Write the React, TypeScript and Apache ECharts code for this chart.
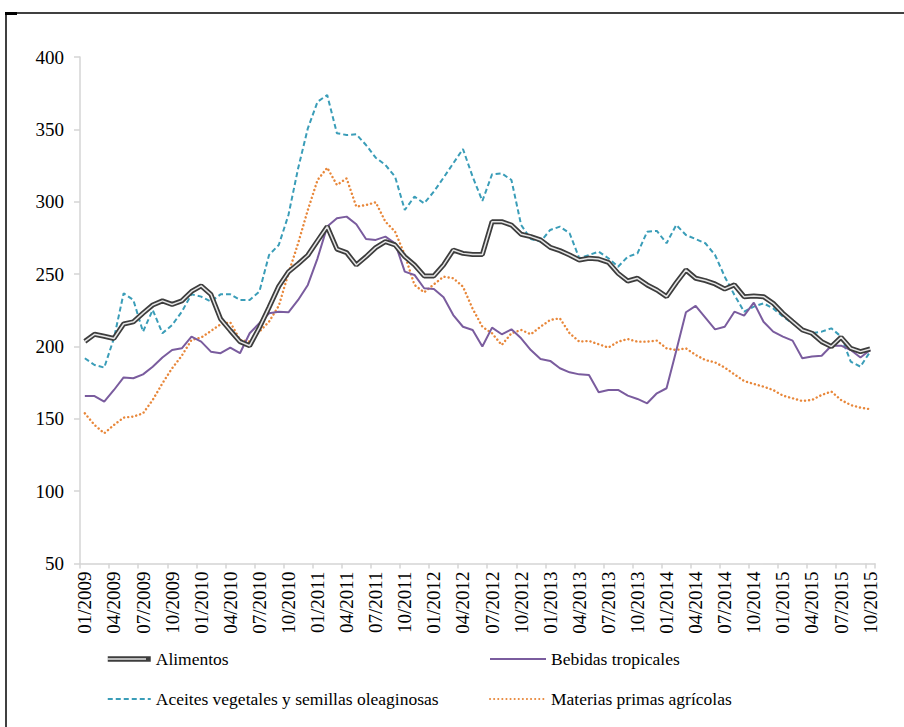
import React, { useEffect, useRef } from "react";
import * as echarts from "echarts";

const years = [2009, 2010, 2011, 2012, 2013, 2014, 2015];
const months = ["01", "02", "03", "04", "05", "06", "07", "08", "09", "10", "11", "12"];
const categories: string[] = [];
years.forEach((y) => months.forEach((m) => categories.push(m + "/" + y)));
categories.splice(82);

const alimentos = [
  203.5, 208.4, 207, 205.5, 215.5, 217, 223, 228.6, 231.5, 229, 231.5, 238,
  241.8, 236, 219, 211, 203.3, 200.5, 213, 227, 241.5, 251.5, 257, 263,
  273, 282.8, 267.3, 264.8, 256.3, 262, 268.3, 272.4, 270.1, 262, 256.3, 248.7,
  248.7, 256.3, 266.6, 264.3, 263.5, 263.5, 286.2, 286.2, 283.9, 277.5, 275.9, 273.6,
  268.5, 266.2, 263.2, 259.7, 260.9, 260.4, 258.1, 250.5, 245.2, 247.1, 242.5, 239,
  234.4, 244, 252.8, 247.1, 245.5, 243.2, 239.7, 242.5, 234.4, 234.9, 234.4, 229.8,
  222.9, 217.1, 211.4, 209.1, 203.3, 199.9, 206.3, 198.7, 196.4, 198.2,
];

const bebidas = [
  165.7, 165.7, 161.8, 169.9, 178.6, 178, 180.7, 186, 192.3, 197.5, 198.7, 206.8,
  203.3, 196.4, 195.3, 199.2, 195.3, 209.1, 216, 222.9, 224, 223.6, 232.1, 242.5,
  260.9, 282.8, 288.5, 289.7, 284.4, 274.2, 273.6, 275.9, 271.3, 251.7, 249.4, 240.2,
  239.7, 234, 221.7, 213.6, 211.4, 199.9, 213, 208.4, 211.8, 205.6, 197.5, 191.3,
  190, 184.9, 182.1, 180.7, 180.3, 168.3, 169.9, 169.9, 166, 163.7, 160.7, 167.6,
  171.1, 197, 223.6, 228, 219.9, 211.8, 213.6, 224, 221.3, 230.3, 217.1, 210.2,
  206.8, 204, 191.8, 193, 193.6, 200.5, 200.5, 197.5, 192.3, 197.5,
];

const aceites = [
  191.8, 187.2, 185.4, 205.6, 236.7, 232.1, 210.2, 225.2, 209.1, 214.8, 224, 236,
  234.4, 231, 236, 236, 232.1, 232.1, 237.9, 263.2, 270.1, 290.8, 323.1, 350.7,
  369.1, 373.7, 347.3, 346.1, 346.6, 339.2, 330.4, 325.4, 317.3, 294.3, 303.5, 298.9,
  307, 316.6, 326.5, 336.4, 317.3, 300.5, 318.9, 319.6, 315, 283.9, 274.2, 272.4,
  280.5, 282.8, 278.2, 260.9, 263.2, 265.5, 260.9, 255.1, 262, 264.3, 279.3, 279.8,
  271.3, 283.9, 277, 274.2, 271.3, 263.2, 248.2, 235.6, 224, 227.5, 229.8, 226.3,
  220.6, 216, 211.4, 209.1, 210.2, 212.5, 206.8, 189.5, 186, 196.4,
];

const materias = [
  153.8, 145.7, 140, 145.7, 150.8, 151.5, 153.8, 163, 174.5, 184.9, 193.6, 204.5,
  206.1, 210.7, 215.3, 216.7, 204.5, 203.3, 210.2, 217.1, 228, 250.5, 271.3, 294.3,
  315, 323.5, 311.6, 316.1, 296.6, 297.7, 299.6, 286.2, 279.3, 263.2, 242.5, 237.4,
  242.9, 248.2, 247.1, 241.3, 226, 213.6, 209.1, 201, 209.1, 211.4, 208.4, 213.6,
  218.3, 219.4, 209.1, 203.3, 203.8, 201.5, 199.2, 203.3, 205.1, 203.3, 203.3, 204,
  198.7, 197.5, 198.7, 194.1, 190.6, 189, 185.4, 180.7, 176.1, 174.1, 172.2, 169.9,
  166, 164.2, 162.3, 163, 166.5, 168.8, 163, 159.5, 157.7, 156.6,
];

const names = [
  "Alimentos",
  "Bebidas tropicales",
  "Aceites vegetales y semillas oleaginosas",
  "Materias primas agrícolas",
];

const FONT = "Nimbus Roman";

export default function App() {
  const ref = useRef<HTMLDivElement>(null);
  useEffect(() => {
    if (!ref.current) return;
    const chart = echarts.init(ref.current, undefined, { renderer: "svg" });
    const axisGray = "#d4d4d4";
    const legendCommon = {
      top: 649,
      padding: 0,
      orient: "vertical",
      itemHeight: 20,
      itemGap: 20,
      itemStyle: { opacity: 0 },
      textStyle: { fontFamily: FONT, fontSize: 17.5, color: "#000", lineHeight: 20 },
      selectedMode: false,
    };
    chart.setOption({
      animation: false,
      backgroundColor: "#ffffff",
      grid: {
        left: 80,
        right: 29,
        top: 57,
        bottom: 163.5,
        containLabel: false,
        outerBoundsMode: "none",
      },
      xAxis: {
        type: "category",
        data: categories,
        boundaryGap: true,
        axisLine: { show: true, lineStyle: { color: axisGray, width: 1.5 } },
        axisTick: { show: true, interval: 2, length: 5, lineStyle: { color: axisGray, width: 1.5 } },
        axisLabel: {
          interval: 2,
          rotate: 90,
          margin: 8,
          fontFamily: FONT,
          fontSize: 19,
          color: "#000",
        },
        splitLine: { show: false },
      },
      yAxis: {
        type: "value",
        min: 50,
        max: 400,
        interval: 50,
        axisLine: { show: true, lineStyle: { color: axisGray, width: 1.5 } },
        axisTick: { show: true, length: 6, lineStyle: { color: axisGray, width: 1.5 } },
        axisLabel: { margin: 16, fontFamily: FONT, fontSize: 19, color: "#000" },
        splitLine: { show: false },
      },
      legend: [
        {
          ...legendCommon,
          left: 105,
          itemWidth: 43,
          data: [{ name: names[0], lineStyle: { width: 5.5 } }, names[2]],
        },
        { ...legendCommon, left: 489, itemWidth: 56, data: [names[1], names[3]] },
      ],
      graphic: [
        { type: "line", z: 100, shape: { x1: 6, y1: 13, x2: 904, y2: 13 }, style: { stroke: "#000", lineWidth: 1.5 } },
        { type: "line", z: 100, shape: { x1: 6, y1: 13, x2: 6, y2: 727 }, style: { stroke: "#000", lineWidth: 1.5 } },
        { type: "rect", z: 100, shape: { x: 5, y: 12, width: 12, height: 3 }, style: { fill: "#000" } },
        { type: "line", z: 100, shape: { x1: 107, y1: 659, x2: 146, y2: 659 }, style: { stroke: "#e6e6e6", lineWidth: 1.6 } },
      ],
      series: [
        {
          name: names[3],
          type: "line",
          data: materias,
          symbol: "none",
          lineStyle: { color: "#e8873a", width: 2.4, type: [0.1, 4], cap: "round" },
          itemStyle: { color: "#e8873a" },
          z: 2,
        },
        {
          name: names[2],
          type: "line",
          data: aceites,
          symbol: "none",
          lineStyle: { color: "#3a9db8", width: 2, type: [5, 3] },
          itemStyle: { color: "#3a9db8" },
          z: 3,
        },
        {
          name: names[1],
          type: "line",
          data: bebidas,
          symbol: "none",
          lineStyle: { color: "#7a5c9e", width: 2 },
          itemStyle: { color: "#7a5c9e" },
          z: 4,
        },
        {
          name: names[0],
          type: "line",
          data: alimentos,
          symbol: "none",
          lineStyle: { color: "#3d3d3d", width: 5 },
          itemStyle: { color: "#3d3d3d" },
          z: 5,
        },
        {
          name: "Alimentos-inner",
          type: "line",
          data: alimentos,
          symbol: "none",
          lineStyle: { color: "#e6e6e6", width: 1.5 },
          itemStyle: { color: "#e6e6e6" },
          z: 6,
          silent: true,
        },
      ],
    });
    return () => chart.dispose();
  }, []);
  return (
    <div
      ref={ref}
      style={{ position: "fixed", left: 0, top: 0, width: 904, height: 727, background: "#fff" }}
    />
  );
}
